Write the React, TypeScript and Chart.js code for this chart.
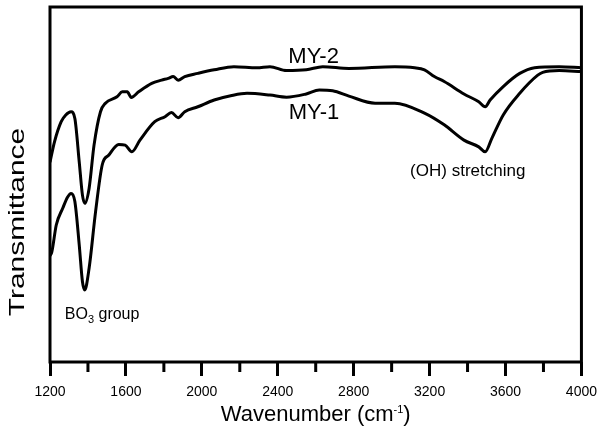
import React, { useEffect, useRef } from 'react';
import { Chart, registerables } from 'chart.js';

Chart.register(...registerables);

const FONT = '"Liberation Sans", Arial, Helvetica, sans-serif';

// Wavenumber (cm-1) and relative transmittance (arbitrary units, 0-100)
const my2Wavenumber = [
  1200, 1224, 1259, 1283, 1311, 1331, 1354, 1371, 1383, 1406, 1432, 1466, 1492, 1553, 1581, 1607,
  1628, 1667, 1736, 1788, 1823, 1849, 1875, 1910, 1979, 2065, 2169, 2290, 2359, 2446, 2550, 2637,
  2775, 3017, 3121, 3173, 3225, 3277, 3381, 3459, 3493, 3519, 3588, 3675, 3753, 3883, 4000,
];
const my2Transmittance = [
  56.3, 62.1, 67.7, 69.6, 70.5, 68.6, 56.4, 47.0, 44.7, 48.9, 61.1, 70.5, 72.9, 74.7, 76.1, 76.1,
  74.5, 76.1, 78.5, 79.4, 79.9, 80.4, 79.4, 80.4, 81.3, 82.3, 83.2, 82.9, 83.2, 82.1, 82.3, 83.2,
  82.7, 83.2, 82.9, 82.3, 80.4, 79.0, 75.5, 73.3, 71.9, 73.8, 77.6, 81.3, 82.9, 83.2, 82.9,
];

const my1Wavenumber = [
  1200, 1210, 1233, 1267, 1293, 1311, 1331, 1354, 1371, 1383, 1406, 1440, 1475, 1510, 1562, 1596,
  1631, 1674, 1752, 1806, 1840, 1875, 1910, 1979, 2065, 2152, 2238, 2359, 2446, 2550, 2619, 2689,
  2775, 2913, 3017, 3173, 3277, 3381, 3459, 3493, 3528, 3588, 3675, 3770, 3796, 3883, 4000,
];
const my1Transmittance = [
  29.9, 31.1, 38.6, 43.3, 46.5, 47.5, 45.2, 33.0, 22.6, 20.3, 26.4, 42.3, 55.5, 58.3, 61.3, 61.1,
  59.2, 62.5, 67.7, 69.1, 70.3, 68.8, 70.5, 71.9, 73.8, 75.0, 75.7, 75.2, 74.6, 75.5, 76.6, 76.4,
  74.9, 72.9, 72.9, 70.1, 66.8, 62.5, 60.6, 59.2, 63.0, 69.6, 75.7, 80.8, 81.6, 82.1, 81.8,
];

const xMin = 1200;
const xMax = 4000;
const majorStep = 400;
const minorStep = 200;

// annotation labels anchored in data coordinates
const annotationTexts = ['MY-2', 'MY-1', '(OH) stretching'];
const annotationWavenumber = [2589, 2591, 3401];
const annotationValue = [84.2, 68.5, 52.4];
const annotationSize = [22, 22, 17];

const boLabelWavenumber = 1278;
const boLabelValue = 12.1;

const decorPlugin = {
  id: 'decor',
  afterDraw(chart: any) {
    const { ctx, chartArea: a, scales } = chart;
    const x = scales.x;
    const y = scales.y;
    ctx.save();
    // frame
    ctx.lineWidth = 3;
    ctx.strokeStyle = '#000';
    ctx.strokeRect(a.left, a.top, a.right - a.left, a.bottom - a.top);
    // minor ticks
    ctx.beginPath();
    for (let v = xMin + minorStep; v < xMax; v += majorStep) {
      const px = x.getPixelForValue(v);
      ctx.moveTo(px, a.bottom);
      ctx.lineTo(px, a.bottom + 10);
    }
    ctx.stroke();

    ctx.fillStyle = '#000';
    ctx.textBaseline = 'alphabetic';
    // annotations
    ctx.textAlign = 'center';
    annotationTexts.forEach((t, i) => {
      ctx.font = `${annotationSize[i]}px ${FONT}`;
      ctx.fillText(t, x.getPixelForValue(annotationWavenumber[i]), y.getPixelForValue(annotationValue[i]));
    });

    // BO3 group
    ctx.textAlign = 'left';
    let bx = x.getPixelForValue(boLabelWavenumber);
    const by = y.getPixelForValue(boLabelValue);
    ctx.font = `16px ${FONT}`;
    ctx.fillText('BO', bx, by);
    bx += ctx.measureText('BO').width;
    ctx.font = `11px ${FONT}`;
    ctx.fillText('3', bx, by + 4);
    bx += ctx.measureText('3').width;
    ctx.font = `16px ${FONT}`;
    ctx.fillText(' group', bx, by);

    // x axis title
    const main = 'Wavenumber (cm';
    const sup = '-1';
    const close = ')';
    ctx.font = `22px ${FONT}`;
    const w1 = ctx.measureText(main).width;
    const w3 = ctx.measureText(close).width;
    ctx.font = `11px ${FONT}`;
    const w2 = ctx.measureText(sup).width;
    const cx = (a.left + a.right) / 2;
    let tx = cx - (w1 + w2 + w3) / 2;
    const ty = chart.height - 13;
    ctx.font = `22px ${FONT}`;
    ctx.fillText(main, tx, ty);
    tx += w1;
    ctx.font = `11px ${FONT}`;
    ctx.fillText(sup, tx, ty - 8);
    tx += w2;
    ctx.font = `22px ${FONT}`;
    ctx.fillText(close, tx, ty);

    // y axis title
    ctx.translate(24, 222);
    ctx.rotate(-Math.PI / 2);
    ctx.scale(1.36, 1);
    ctx.textAlign = 'center';
    ctx.font = `22px ${FONT}`;
    ctx.fillText('Transmittance', 0, 0);
    ctx.restore();
  },
};

export default function App() {
  const ref = useRef<HTMLCanvasElement>(null);
  useEffect(() => {
    if (!ref.current) return;
    const toPoints = (xs: number[], ys: number[]) => xs.map((v, i) => ({ x: v, y: ys[i] }));
    const chart = new Chart(ref.current, {
      type: 'line',
      data: {
        datasets: [
          {
            label: 'MY-2',
            data: toPoints(my2Wavenumber, my2Transmittance),
            borderColor: '#000',
            borderWidth: 3,
            pointRadius: 0,
            fill: false,
            cubicInterpolationMode: 'monotone',
          },
          {
            label: 'MY-1',
            data: toPoints(my1Wavenumber, my1Transmittance),
            borderColor: '#000',
            borderWidth: 3,
            pointRadius: 0,
            fill: false,
            cubicInterpolationMode: 'monotone',
          },
        ],
      },
      options: {
        responsive: false,
        animation: false,
        parsing: false,
        layout: { padding: { left: 50, top: 7, right: 16, bottom: 0 } },
        plugins: { legend: { display: false }, tooltip: { enabled: false } },
        scales: {
          x: {
            type: 'linear',
            min: xMin,
            max: xMax,
            afterFit: (s: any) => {
              s.height = 72;
            },
            border: { display: false },
            grid: {
              drawOnChartArea: false,
              drawTicks: true,
              tickLength: 14,
              tickWidth: 3,
              tickColor: (c: any) =>
                c.tick && c.tick.value % majorStep === 0 ? '#000' : 'rgba(0,0,0,0)',
            },
            ticks: {
              stepSize: minorStep,
              autoSkip: false,
              maxRotation: 0,
              padding: 8,
              color: '#000',
              font: { family: FONT, size: 14 },
              callback: (v: any) => (Number(v) % majorStep === 0 ? String(v) : ''),
            },
          },
          y: { display: false, min: 0, max: 100 },
        },
      },
      plugins: [decorPlugin],
    } as any);
    return () => chart.destroy();
  }, []);
  return (
    <div style={{ position: 'absolute', left: 0, top: 0, width: 605, height: 434, background: '#fff' }}>
      <canvas ref={ref} width={605} height={434} style={{ display: 'block', width: 605, height: 434 }} />
    </div>
  );
}
